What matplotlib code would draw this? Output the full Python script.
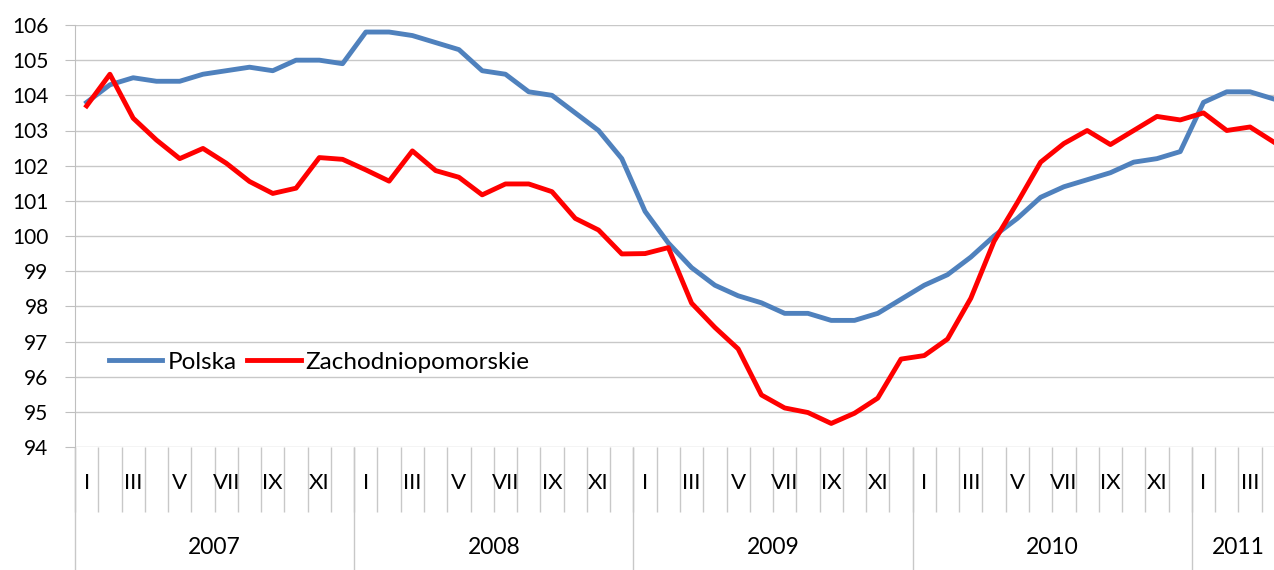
import matplotlib
matplotlib.use("Agg")
import matplotlib.pyplot as plt
from matplotlib.transforms import blended_transform_factory

plt.rcParams['font.family'] = ['Lato', 'DejaVu Sans']

# months Jan 2007 .. Apr 2011
months_roman = ["I", "II", "III", "IV", "V", "VI", "VII", "VIII", "IX", "X", "XI", "XII"]
years = ["2007", "2008", "2009", "2010", "2011"]
months_per_year = [12, 12, 12, 12, 4]

polska = [103.8, 104.3, 104.5, 104.4, 104.4, 104.6, 104.7, 104.8, 104.7, 105.0, 105.0, 104.9,
          105.8, 105.8, 105.7, 105.5, 105.3, 104.7, 104.6, 104.1, 104.0, 103.5, 103.0, 102.2,
          100.7, 99.8, 99.1, 98.6, 98.3, 98.1, 97.8, 97.8, 97.6, 97.6, 97.8, 98.2,
          98.6, 98.9, 99.4, 100.0, 100.5, 101.1, 101.4, 101.6, 101.8, 102.1, 102.2, 102.4,
          103.8, 104.1, 104.1, 103.9]
zachodniopomorskie = [103.7, 104.6, 103.35, 102.73, 102.2, 102.49, 102.07, 101.55, 101.21, 101.36, 102.23, 102.18,
                      101.88, 101.56, 102.42, 101.86, 101.67, 101.17, 101.48, 101.48, 101.26, 100.5, 100.17, 99.49,
                      99.5, 99.67, 98.09, 97.4, 96.79, 95.48, 95.11, 94.98, 94.67, 94.96, 95.39, 96.5,
                      96.6, 97.07, 98.23, 99.85, 100.95, 102.1, 102.63, 103.0, 102.6, 103.0, 103.4, 103.3,
                      103.5, 103.0, 103.1, 102.68]

W, H = 1274, 570
fig = plt.figure(figsize=(W / 100, H / 100), dpi=100)
# plot area in pixels: x 75..1274, y 25..447
ax = fig.add_axes([75 / W, 1 - 447 / H, 1 - 75 / W, 422 / H])

x = list(range(len(polska)))
ax.plot(x, polska, color="#4F81BD", lw=3.5, label="Polska", solid_joinstyle="round")
ax.plot(x, zachodniopomorskie, color="#FF0000", lw=3.5, label="Zachodniopomorskie", solid_joinstyle="round")

ax.set_ylim(94, 106)
ax.set_yticks(range(94, 107))
ax.set_xlim(-0.5, 51.03)
ax.grid(axis="y", color="#C8C8C8", lw=1)
ax.set_axisbelow(True)
for s in ["top", "right", "bottom"]:
    ax.spines[s].set_visible(False)
ax.spines["left"].set_color("#BFBFBF")
ax.tick_params(axis="y", length=7, color="#BFBFBF", pad=12, labelsize=15, labelcolor="#000000")
ax.set_xticks([])

# two-level category axis drawn below the plot
px = 1 / 422  # one pixel in axes fraction (vertical)
tr = blended_transform_factory(ax.transData, ax.transAxes)
bounds = [i - 0.5 for i in range(len(polska) + 1)]
ax.vlines(bounds, -65 * px, 0, transform=tr, color="#C8C8C8", lw=1, clip_on=False)

start = 0
year_bounds = [-0.5]
for yr, n in zip(years, months_per_year):
    for m in range(n):
        if m % 2 == 0:
            ax.text(start + m, -36 * px, months_roman[m], transform=tr, ha="center", va="center",
                    fontsize=16, clip_on=False)
    ax.text(start + (n - 1) / 2, -101 * px, yr, transform=tr, ha="center", va="center",
            fontsize=16.5, clip_on=False)
    start += n
    year_bounds.append(start - 0.5)
ax.vlines(year_bounds[:-1], -125 * px, 0, transform=tr, color="#C8C8C8", lw=1, clip_on=False)

leg = ax.legend(loc="center left", bbox_to_anchor=(34 / 1199, 1 - (362 - 25) / 422), frameon=False,
                ncol=2, fontsize=17.5, handlelength=2.2, handletextpad=0.2, columnspacing=0.45,
                borderaxespad=0, borderpad=0)

fig.savefig("out.png", dpi=100)
